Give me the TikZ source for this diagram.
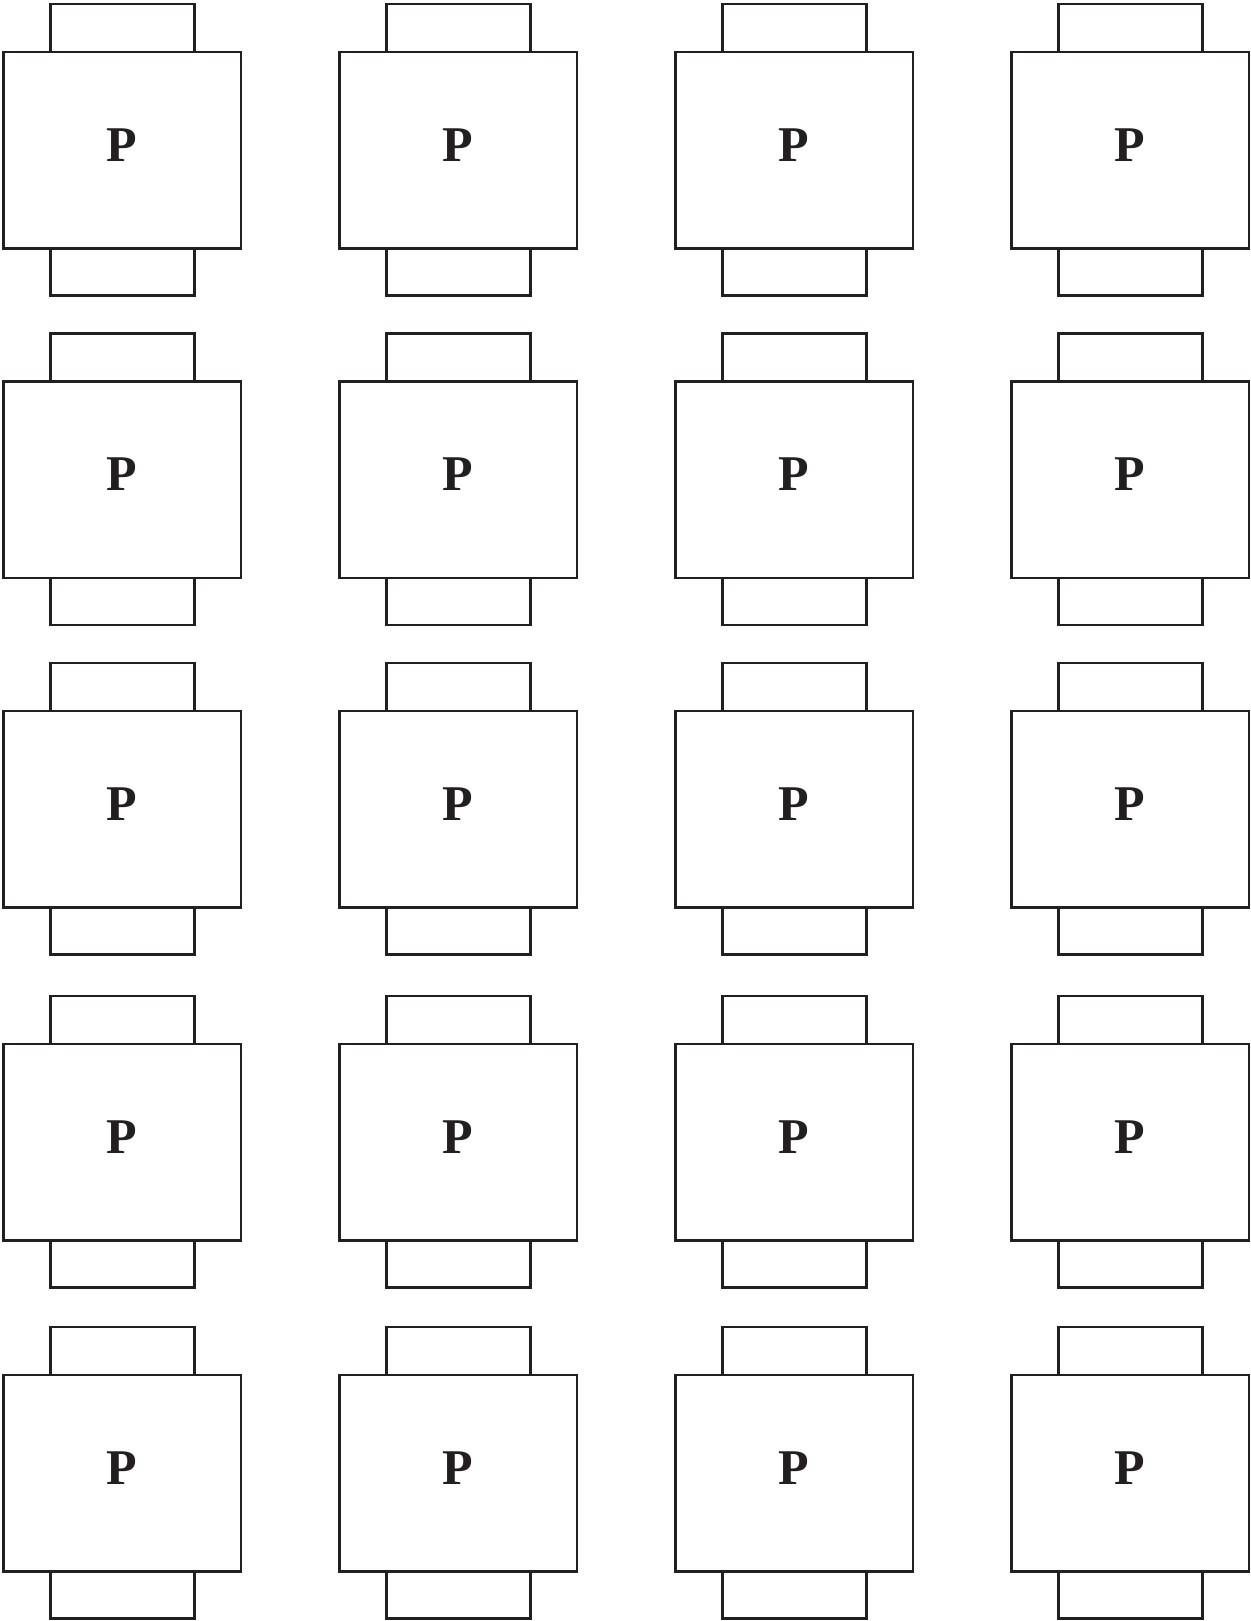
\documentclass[tikz,border=0pt]{standalone}
\usepackage{fontspec}
\setmainfont{Liberation Serif}
\definecolor{ink}{HTML}{231F20}
\begin{document}
\begin{tikzpicture}[x=1pt,y=-1pt,
  mainbox/.style={draw=ink,line width=2.8pt,fill=white,rectangle,inner sep=0pt,
    minimum width=237.8pt,minimum height=196.5pt},
  tabbox/.style={draw=ink,line width=2.8pt,fill=white},
  lbl/.style={text=ink,inner sep=0pt,font=\fontsize{50}{60}\selectfont\bfseries}]
\useasboundingbox (0,0) rectangle (1250,1621);
\foreach \T [count=\r] in {52,381.5,711,1044,1375}{
  \foreach \L [count=\c] in {3.1,339.1,675.1,1011.2}{
    \draw[tabbox] (\L+47.6,\T-48) rectangle (\L+191.3,\T);
    \draw[tabbox] (\L+47.6,\T+196.5) rectangle (\L+191.3,\T+243.5);
    \node[mainbox] (m\r\c) at (\L+118.9,\T+98.25) {};
    \node[lbl] (p\r\c) at ([yshift=5.5pt]m\r\c.center) {P};
  }
}
\end{tikzpicture}
\end{document}
